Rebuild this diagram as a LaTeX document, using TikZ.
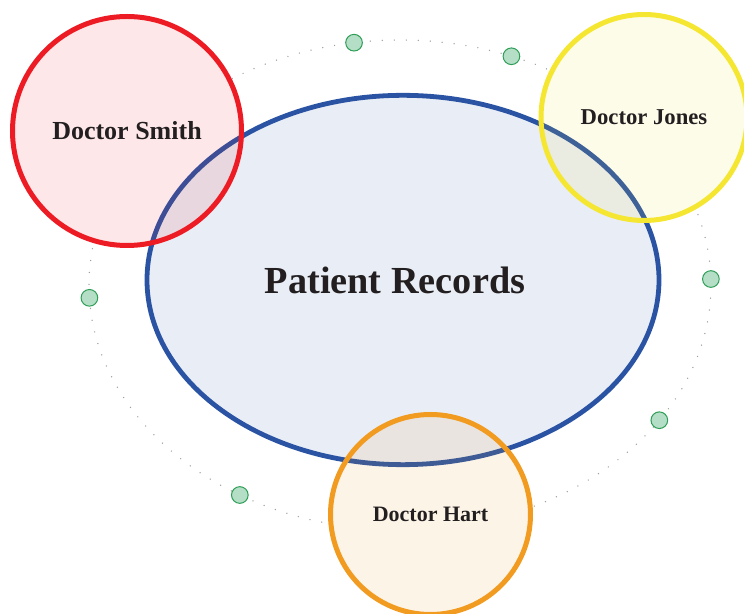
\documentclass[tikz,border=0pt]{standalone}
\usepackage{fontspec}
\setmainfont{Liberation Serif}
\usetikzlibrary{shapes.geometric, calc, backgrounds}

\definecolor{smithred}{HTML}{ED1C24}
\definecolor{jonesyellow}{HTML}{F5E631}
\definecolor{hartorange}{HTML}{F29B21}
\definecolor{recordblue}{HTML}{2A54A3}
\definecolor{stopgreen}{HTML}{2E9E57}
\definecolor{stopfill}{HTML}{B4DEC6}
\definecolor{ink}{HTML}{231F20}

\begin{document}
\begin{tikzpicture}[
        x=0.75pt, y=0.75pt,
        every node/.style={text=ink, text opacity=1},
        doctor/.style={circle, line width=3.75pt, inner sep=0pt, fill opacity=0.1},
        boldsize/.style={font=\bfseries\fontsize{#1}{#1}\selectfont},
        records/.style={ellipse, draw=recordblue, fill=recordblue, fill opacity=0.1,
            line width=3.6pt, minimum width=384pt, minimum height=277pt, inner sep=0pt},
        orbit/.style={gray!75, line width=1.1pt, dash pattern=on 0pt off 9pt, line cap=round},
        stop/.style={circle, draw=stopgreen, fill=stopfill, line width=0.75pt,
            minimum size=12.5pt, inner sep=0pt}
    ]
    \useasboundingbox (0,0) rectangle (744,614);

    \coordinate (ring) at (400,329);

    \node[records, label={[boldsize=28.7, xshift=-6pt]center:Patient Records}] (records) at (403,334) {};

    \node[doctor, boldsize=19.5, draw=smithred, fill=smithred, minimum size=171.75pt] (smith) at (127,483) {Doctor Smith};
    \node[doctor, boldsize=17, draw=jonesyellow, fill=jonesyellow, minimum size=154.5pt] (jones) at (644,496.5) {Doctor Jones};
    \node[doctor, boldsize=16.5, draw=hartorange, fill=hartorange, minimum size=150pt] (hart) at (430.5,99.5) {Doctor Hart};

    \begin{scope}[on background layer]
        \draw[orbit] (ring) ellipse [x radius=233.25pt, y radius=183.75pt];
        \foreach \a [count=\i] in {98.5, 69, 1.4, -33.5, -121, 183}
            \node[stop] (stop\i) at ($(ring)+(\a:233.25pt and 183.75pt)$) {};
        % white under the doctors hides the orbit
        \foreach \who in {smith, jones, hart}
            \fill[white] let \p1 = ($(\who.east)-(\who.center)$) in (\who.center) circle (\x1);
    \end{scope}
\end{tikzpicture}
\end{document}
